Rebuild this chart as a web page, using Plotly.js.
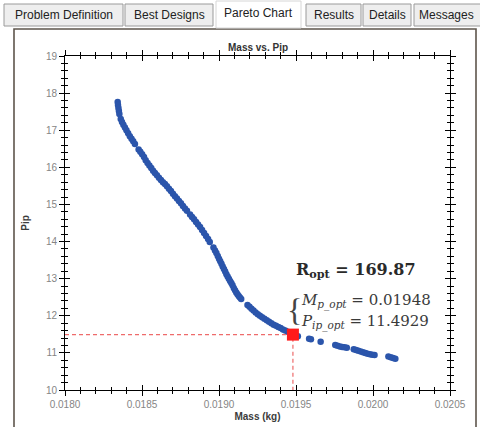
<!DOCTYPE html>
<html>
<head>
<meta charset="utf-8">
<script src="https://cdn.plot.ly/plotly-3.0.1.min.js"></script>
<style>
html,body{margin:0;padding:0;background:#ffffff;}
#chart{width:480px;height:427px;}
</style>
</head>
<body>
<div id="chart"></div>
<script>
// ---- data ----
var tabLabels = ["Problem Definition", "Best Designs", "Pareto Chart", "Results", "Details", "Messages"];
var chartTitle = "Mass vs. Pip";
var xTitle = "Mass (kg)";
var yTitle = "Pip";

// Pareto front: mass (kg)
var paretoMass = [
  0.018342,0.018344,0.018347,0.018350,0.018353,
  0.018362,0.018370,0.018379,0.018389,0.018399,0.018410,0.018421,0.018432,0.018443,0.018454,
  0.018478,0.018489,0.018501,0.018513,0.018524,0.018536,0.018548,0.018560,0.018572,0.018584,0.018597,0.018610,0.018623,0.018636,0.018649,0.018662,0.018675,0.018688,0.018701,0.018714,0.018727,0.018740,0.018753,0.018766,0.018779,0.018792,0.018812,0.018825,0.018838,0.018851,0.018864,0.018877,0.018890,0.018903,0.018916,0.018929,0.018940,
  0.018964,0.018974,0.018983,0.018992,0.019000,0.019008,0.019016,0.019024,0.019032,0.019040,0.019048,0.019056,0.019064,0.019072,0.019080,0.019088,0.019096,0.019104,0.019112,0.019120,0.019128,0.019136,0.019144,
  0.019185,0.019198,0.019211,0.019224,0.019238,0.019252,0.019266,0.019280,0.019295,0.019310,0.019325,0.019340,0.019355,0.019370,0.019385,0.019400,0.019415,0.019430,0.019446,0.019462,
  0.019500,0.019512,0.019585,0.019597,0.019660,
  0.019755,0.019770,0.019785,0.019800,0.019815,0.019830,
  0.019875,0.019890,0.019905,0.019920,0.019935,0.019950,0.019965,0.019980,0.019995,0.020010,
  0.020100,0.020115,0.020130,0.020145
];
// Pareto front: Pip
var paretoPip = [
  17.76,17.68,17.60,17.52,17.44,
  17.30,17.22,17.15,17.07,17.00,16.92,16.84,16.77,16.70,16.63,
  16.48,16.42,16.35,16.28,16.19,16.12,16.05,15.98,15.91,15.85,15.79,15.72,15.66,15.60,15.55,15.49,15.42,15.36,15.29,15.22,15.16,15.09,15.03,14.96,14.89,14.83,14.73,14.66,14.60,14.53,14.46,14.39,14.31,14.23,14.15,14.07,13.99,
  13.84,13.76,13.69,13.61,13.54,13.47,13.40,13.33,13.26,13.19,13.12,13.06,13.00,12.94,12.88,12.82,12.75,12.69,12.63,12.58,12.53,12.49,12.45,
  12.29,12.24,12.19,12.14,12.09,12.04,12.00,11.96,11.92,11.88,11.84,11.80,11.76,11.73,11.70,11.67,11.63,11.60,11.57,11.54,
  11.47,11.45,11.38,11.37,11.30,
  11.21,11.19,11.17,11.16,11.15,11.14,
  11.10,11.08,11.06,11.04,11.02,11.00,10.98,10.96,10.95,10.94,
  10.90,10.88,10.86,10.84
];

// optimum point
var optMass = [0.01948];
var optPip = [11.4929];
var rOpt = 169.87;

// axis limits / ticks
var xRange = [0.0180, 0.0205];
var yRange = [10, 19];
var xMajor = 0.0005, xMinor = 0.0001;
var yMajor = 1, yMinor = 0.2;

// ---- figure ----
var W = 480, H = 427;
var M = {l: 65, r: 30, t: 56, b: 37};
var PW = W - M.l - M.r, PH = H - M.t - M.b;
function px(x){ return (x - M.l) / PW; }
function py(y){ return (H - M.b - y) / PH; }

var blue = '#2b55ab';

var traces = [
  {
    x: paretoMass, y: paretoPip, type: 'scatter', mode: 'markers',
    marker: {size: 6.5, color: blue, line: {width: 0}},
    hoverinfo: 'skip', showlegend: false
  },
  {
    x: [xRange[0], optMass[0], optMass[0]],
    y: [optPip[0], optPip[0], yRange[0]],
    type: 'scatter', mode: 'lines',
    line: {color: '#ee6b6b', width: 1.2, dash: '4px,3px'},
    hoverinfo: 'skip', showlegend: false
  },
  {
    x: optMass, y: optPip, type: 'scatter', mode: 'markers',
    marker: {size: 12, color: '#ff1a1a', symbol: 'square', line: {width: 0}},
    hoverinfo: 'skip', showlegend: false
  },
  {
    x: [xRange[0]], y: [yRange[0]], xaxis: 'x2', yaxis: 'y2',
    type: 'scatter', mode: 'markers', marker: {opacity: 0},
    hoverinfo: 'skip', showlegend: false
  }
];

var shapes = [];
var annotations = [];

// outer panel frame
shapes.push({type: 'rect', xref: 'paper', yref: 'paper', layer: 'below',
  x0: px(14), x1: px(476), y0: py(440), y1: py(29),
  line: {color: '#5e554c', width: 1.6}, fillcolor: 'rgba(0,0,0,0)'});

// tabs
var tabBoxes = [[4,123],[125,213],[216,301],[306,361],[363,411],[414,486]];
tabBoxes.forEach(function(b, i){
  var sel = (i === 2);
  shapes.push({type: 'rect', xref: 'paper', yref: 'paper', layer: 'below',
    x0: px(b[0]), x1: px(b[1]), y0: py(sel ? 28 : 26), y1: py(sel ? 1 : 4),
    line: {color: sel ? '#d6d6d6' : '#9a9a9a', width: 1},
    fillcolor: sel ? '#ffffff' : '#eeeeee'});
  annotations.push({xref: 'paper', yref: 'paper', x: px((b[0] + b[1]) / 2 + (i === 5 ? -4 : 0)),
    y: py(sel ? 13 : 15.5), text: tabLabels[i], showarrow: false,
    xanchor: 'center', yanchor: 'middle',
    font: {family: 'Liberation Sans, Arial, sans-serif', size: 12, color: '#222'}});
});

// chart title
annotations.push({xref: 'paper', yref: 'paper', x: 0.5, y: py(47), xanchor: 'center', yanchor: 'middle',
  showarrow: false, text: '<b>' + chartTitle + '</b>',
  font: {family: 'Liberation Sans, Arial, sans-serif', size: 10, color: '#333'}});

// result annotations
var serif = 'DejaVu Serif, Liberation Serif, serif';
annotations.push({xref: 'paper', yref: 'paper', x: px(294), y: py(270), xanchor: 'left', yanchor: 'middle',
  showarrow: false, text: '<b>R<sub>opt</sub> = ' + rOpt.toFixed(2) + '</b>',
  font: {family: serif, size: 16, color: '#2a2a2a'}});
annotations.push({xref: 'paper', yref: 'paper', x: px(286), y: py(310), xanchor: 'left', yanchor: 'middle',
  showarrow: false, text: '{', borderpad: 0,
  font: {family: 'Liberation Serif, serif', size: 32, color: '#444'}});
annotations.push({xref: 'paper', yref: 'paper', x: px(300), y: py(301), xanchor: 'left', yanchor: 'middle',
  showarrow: false, text: '<i>M</i><sub><i>p_opt</i></sub> = ' + optMass[0].toFixed(5), borderpad: 0,
  font: {family: serif, size: 15, color: '#3a3a3a'}});
annotations.push({xref: 'paper', yref: 'paper', x: px(300), y: py(322), xanchor: 'left', yanchor: 'middle',
  showarrow: false, text: '<i>P</i><sub><i>ip_opt</i></sub> = ' + optPip[0].toFixed(4), borderpad: 0,
  font: {family: serif, size: 15, color: '#3a3a3a'}});

var tickFont = {family: 'Liberation Sans, Arial, sans-serif', size: 10, color: '#858585'};
var titleFont = {family: 'Liberation Sans, Arial, sans-serif', size: 10, color: '#3c3c3c'};

var layout = {
  width: W, height: H,
  margin: M,
  paper_bgcolor: '#ffffff', plot_bgcolor: '#ffffff',
  showlegend: false,
  xaxis: {
    range: xRange, dtick: xMajor, tick0: xRange[0], tickformat: '.4f',
    ticks: 'outside', ticklen: 5, tickwidth: 1, tickcolor: '#000',
    minor: {dtick: xMinor, ticks: 'outside', ticklen: 3, tickcolor: '#000', showgrid: false},
    showline: true, linecolor: '#000', linewidth: 1, mirror: 'ticks',
    showgrid: false, zeroline: false, tickfont: tickFont,
    title: {text: '<b>' + xTitle + '</b>', font: titleFont, standoff: 3}
  },
  yaxis: {
    range: yRange, dtick: yMajor, tick0: 0,
    ticks: 'outside', ticklen: 5, tickwidth: 1, tickcolor: '#000',
    minor: {dtick: yMinor, ticks: 'outside', ticklen: 3, tickcolor: '#000', showgrid: false},
    showline: true, linecolor: '#000', linewidth: 1, mirror: 'ticks',
    showgrid: false, zeroline: false, tickfont: tickFont,
    title: {text: '<b>' + yTitle + '</b>', font: titleFont, standoff: 14}
  },
  xaxis2: {
    overlaying: 'x', range: xRange, dtick: xMajor, tick0: xRange[0],
    ticks: 'inside', ticklen: 5, tickcolor: '#000', showticklabels: false,
    minor: {dtick: xMinor, ticks: 'inside', ticklen: 3, tickcolor: '#000'},
    showline: false, mirror: 'ticks', showgrid: false, zeroline: false
  },
  yaxis2: {
    overlaying: 'y', range: yRange, dtick: yMajor, tick0: 0,
    ticks: 'inside', ticklen: 5, tickcolor: '#000', showticklabels: false,
    minor: {dtick: yMinor, ticks: 'inside', ticklen: 3, tickcolor: '#000'},
    showline: false, mirror: 'ticks', showgrid: false, zeroline: false
  },
  shapes: shapes,
  annotations: annotations
};

Plotly.newPlot('chart', traces, layout, {staticPlot: true, displayModeBar: false});
</script>
</body>
</html>
